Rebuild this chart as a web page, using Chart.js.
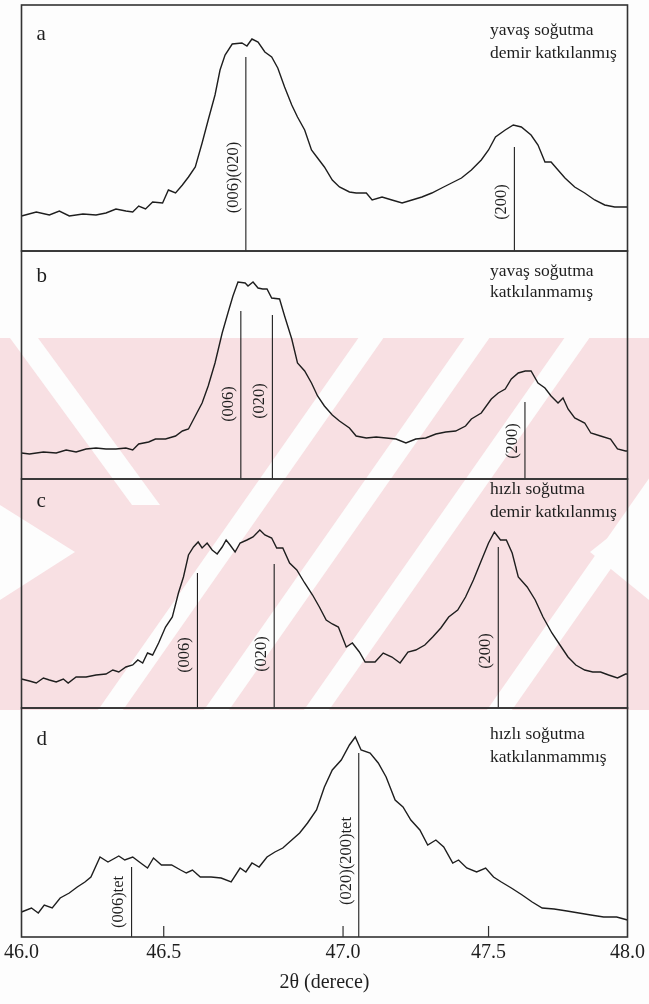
<!DOCTYPE html>
<html>
<head>
<meta charset="utf-8">
<script src="https://cdn.jsdelivr.net/npm/chart.js@4.4.1/dist/chart.umd.min.js"></script>
<style>
  html, body { margin: 0; padding: 0; background: #fdfdfd; }
  #wrap { position: relative; width: 649px; height: 1004px; }
</style>
</head>
<body>
<div id="wrap"><canvas id="xrd" width="649" height="1004"></canvas></div>
<script>
// ---- Diffraction patterns: 2θ (degrees) and intensity (a.u.) ----

// (a) yavaş soğutma, demir katkılanmış
const thetaA = [46.000, 46.052, 46.098, 46.133, 46.168, 46.216, 46.262, 46.297, 46.332, 46.367,
  46.391, 46.412, 46.436, 46.461, 46.496, 46.513, 46.533, 46.552, 46.569, 46.588,
  46.607, 46.624, 46.643, 46.657, 46.671, 46.691, 46.718, 46.732, 46.746, 46.763,
  46.782, 46.801, 46.818, 46.837, 46.857, 46.873, 46.893, 46.912, 46.929, 46.948,
  46.970, 46.990, 47.022, 47.045, 47.080, 47.100, 47.134, 47.168, 47.203, 47.237,
  47.271, 47.305, 47.339, 47.373, 47.407, 47.441, 47.475, 47.500, 47.525, 47.560,
  47.589, 47.618, 47.653, 47.678, 47.703, 47.725, 47.750, 47.775, 47.810, 47.846,
  47.882, 47.918, 47.954, 47.989, 48.000];
const intA = [35, 39, 36, 40, 35, 37, 36, 38, 42, 40,
  39, 45, 42, 49, 48, 61, 58, 66, 74, 84,
  108, 131, 156, 181, 196, 207, 208, 205, 212, 209,
  199, 194, 183, 164, 146, 134, 121, 101, 93, 84,
  71, 64, 59, 58, 58, 51, 54, 51, 48, 51,
  54, 58, 63, 68, 73, 81, 91, 101, 114, 121,
  126, 124, 116, 106, 89, 89, 81, 73, 64, 58,
  51, 46, 44, 44, 44];

// (b) yavaş soğutma, katkılanmamış
const thetaB = [46.000, 46.028, 46.077, 46.122, 46.157, 46.192, 46.227, 46.262, 46.297, 46.332,
  46.367, 46.391, 46.412, 46.447, 46.471, 46.505, 46.533, 46.552, 46.569, 46.588,
  46.607, 46.624, 46.643, 46.663, 46.679, 46.693, 46.707, 46.727, 46.735, 46.749,
  46.763, 46.776, 46.788, 46.801, 46.823, 46.837, 46.857, 46.873, 46.893, 46.912,
  46.929, 46.948, 46.970, 46.990, 47.022, 47.045, 47.080, 47.114, 47.148, 47.182,
  47.216, 47.250, 47.284, 47.319, 47.353, 47.387, 47.421, 47.441, 47.475, 47.510,
  47.535, 47.560, 47.582, 47.607, 47.632, 47.653, 47.678, 47.703, 47.725, 47.750,
  47.768, 47.786, 47.810, 47.846, 47.868, 47.903, 47.939, 47.964, 47.993, 48.000];
const intB = [26, 25, 27, 26, 29, 27, 30, 31, 30, 30,
  31, 29, 35, 37, 40, 40, 43, 48, 50, 63,
  76, 93, 116, 146, 166, 183, 197, 196, 193, 197,
  191, 190, 190, 181, 180, 163, 140, 116, 108, 96,
  83, 73, 64, 58, 51, 43, 41, 42, 41, 40,
  36, 40, 41, 45, 47, 48, 53, 60, 66, 80,
  86, 90, 100, 106, 108, 108, 96, 91, 83, 76,
  81, 70, 61, 56, 46, 43, 40, 30, 28, 28];

// (c) hızlı soğutma, demir katkılanmış
const thetaC = [46.000, 46.028, 46.052, 46.077, 46.098, 46.122, 46.147, 46.164, 46.192, 46.227,
  46.262, 46.297, 46.321, 46.342, 46.367, 46.391, 46.409, 46.426, 46.443, 46.461,
  46.482, 46.505, 46.524, 46.541, 46.555, 46.569, 46.583, 46.596, 46.607, 46.621,
  46.635, 46.649, 46.663, 46.674, 46.685, 46.699, 46.713, 46.732, 46.749, 46.768,
  46.782, 46.801, 46.815, 46.832, 46.851, 46.871, 46.893, 46.915, 46.934, 46.953,
  46.970, 46.987, 47.011, 47.032, 47.056, 47.076, 47.110, 47.138, 47.168, 47.196,
  47.223, 47.250, 47.281, 47.308, 47.336, 47.363, 47.394, 47.421, 47.448, 47.476,
  47.500, 47.521, 47.543, 47.564, 47.585, 47.607, 47.639, 47.668, 47.696, 47.728,
  47.757, 47.786, 47.814, 47.846, 47.875, 47.903, 47.932, 47.964, 47.993, 48.000];
const intC = [29, 27, 25, 30, 28, 26, 29, 25, 31, 31,
  33, 34, 38, 36, 41, 43, 48, 45, 55, 53,
  65, 81, 91, 115, 131, 153, 161, 166, 160, 165,
  158, 154, 161, 168, 163, 156, 165, 168, 171, 178,
  173, 170, 160, 160, 145, 138, 125, 113, 101, 88,
  84, 81, 61, 65, 56, 46, 46, 55, 51, 45,
  56, 58, 63, 71, 80, 91, 98, 111, 128, 148,
  165, 176, 168, 168, 155, 131, 121, 108, 91, 75,
  63, 51, 43, 38, 36, 36, 33, 30, 34, 34];

// (d) hızlı soğutma, katkılanmammış
const thetaD = [46.000, 46.035, 46.059, 46.080, 46.108, 46.136, 46.168, 46.196, 46.223, 46.244,
  46.276, 46.304, 46.342, 46.363, 46.391, 46.419, 46.443, 46.464, 46.492, 46.522,
  46.547, 46.563, 46.580, 46.602, 46.632, 46.660, 46.688, 46.713, 46.729, 46.746,
  46.766, 46.788, 46.810, 46.832, 46.857, 46.879, 46.901, 46.926, 46.948, 46.970,
  46.995, 47.022, 47.042, 47.062, 47.093, 47.121, 47.148, 47.179, 47.206, 47.233,
  47.264, 47.291, 47.319, 47.346, 47.377, 47.397, 47.425, 47.459, 47.490, 47.518,
  47.546, 47.582, 47.621, 47.657, 47.693, 47.736, 47.782, 47.825, 47.868, 47.914,
  47.961, 48.000];
const intD = [25, 29, 24, 32, 29, 39, 44, 50, 55, 60,
  80, 75, 81, 77, 80, 74, 69, 79, 72, 72,
  67, 64, 67, 60, 60, 59, 55, 69, 65, 74,
  70, 80, 85, 89, 97, 104, 114, 127, 150, 167,
  177, 192, 200, 187, 184, 174, 160, 137, 130, 117,
  107, 92, 97, 90, 74, 77, 69, 65, 69, 60,
  55, 49, 42, 35, 29, 28, 26, 24, 22, 20,
  20, 17];

// Reflection markers: position (2θ), line height (a.u.), Miller indices
const peakPosA = [46.729, 47.593];
const peakTopA = [194, 104];
const peakHklA = ['(006)(020)', '(200)'];

const peakPosB = [46.715, 46.803, 47.631];
const peakTopB = [168, 164, 77];
const peakHklB = ['(006)', '(020)', '(200)'];

const peakPosC = [46.594, 46.808, 47.535];
const peakTopC = [135, 144, 161];
const peakHklC = ['(006)', '(020)', '(200)'];

const peakPosD = [46.387, 47.054];
const peakTopD = [70, 184];
const peakHklD = ['(006)tet', '(020)(200)tet'];

// Panel letters and sample descriptions
const panelLetters = ['a', 'b', 'c', 'd'];
const panelNotes = [
  ['yavaş soğutma', 'demir katkılanmış'],
  ['yavaş soğutma', 'katkılanmamış'],
  ['hızlı soğutma', 'demir katkılanmış'],
  ['hızlı soğutma', 'katkılanmammış']
];

// 2θ axis ticks and their printed spacing along the axis (fractions of its length)
const axisTicks = [46.0, 46.5, 47.0, 47.5, 48.0];
const tickFractions = [0, 0.2347, 0.5306, 0.7707, 1];
const xTitle = '2θ (derece)';

// ---- layout / style ----
const panelIds = ['ya', 'yb', 'yc', 'yd'];
const panelSpan = [246, 228, 229, 229];              // y range of each panel (a.u.)
const labelMid = [[73.5, 49], [75, 78, 38], [53, 54, 57], [35, 76]];
const letterBase = [35, 31, 28, 37];                 // px below panel top
const noteBase = [[30, 53], [25, 46], [15, 38], [31, 54]];
const SERIF = '"Liberation Serif", "Times New Roman", serif';
const INK = '#1e1e1e';
const PAPER = '#fdfdfd';
const BLUSH = '#f8e0e3';

// piecewise-linear mapping of 2θ onto the printed axis
function thetaToFraction(v) {
  const t = axisTicks, f = tickFractions;
  if (v <= t[0]) return f[0] + (v - t[0]) * (f[1] - f[0]) / (t[1] - t[0]);
  for (let i = 0; i < t.length - 1; i++) {
    if (v <= t[i + 1]) return f[i] + (v - t[i]) * (f[i + 1] - f[i]) / (t[i + 1] - t[i]);
  }
  const n = t.length - 1;
  return f[n] + (v - t[n]) * (f[n] - f[n - 1]) / (t[n] - t[n - 1]);
}
function fractionToTheta(d) {
  const t = axisTicks, f = tickFractions;
  for (let i = 0; i < f.length - 1; i++) {
    if (d <= f[i + 1] || i === f.length - 2) return t[i] + (d - f[i]) * (t[i + 1] - t[i]) / (f[i + 1] - f[i]);
  }
}

class PrintedAxisScale extends Chart.LinearScale {
  getPixelForValue(value) {
    if (value === null || value === undefined || isNaN(value)) return NaN;
    return this.getPixelForDecimal(thetaToFraction(value));
  }
  getValueForPixel(pixel) {
    return fractionToTheta(this.getDecimalForPixel(pixel));
  }
}
PrintedAxisScale.id = 'printedAxis';
PrintedAxisScale.defaults = Chart.LinearScale.defaults;
Chart.register(PrintedAxisScale);

const series = [
  [thetaA, intA], [thetaB, intB], [thetaC, intC], [thetaD, intD]
];
const peaks = [
  [peakPosA, peakTopA, peakHklA], [peakPosB, peakTopB, peakHklB],
  [peakPosC, peakTopC, peakHklC], [peakPosD, peakTopD, peakHklD]
];

const datasets = [];
series.forEach(([th, iy], p) => {
  datasets.push({
    data: th.map((t, i) => ({ x: t, y: iy[i] })),
    yAxisID: panelIds[p], xAxisID: 'x',
    borderColor: INK, borderWidth: 1.4, pointRadius: 0, tension: 0, fill: false
  });
});
peaks.forEach(([pos, top], p) => {
  pos.forEach((t, k) => {
    datasets.push({
      data: [{ x: t, y: 0 }, { x: t, y: top[k] }],
      yAxisID: panelIds[p], xAxisID: 'x',
      borderColor: INK, borderWidth: 1.1, pointRadius: 0, fill: false
    });
  });
});

// stacked panels: the last declared scale sits on top
const scales = {
  x: {
    type: 'printedAxis', position: 'bottom', min: 46, max: 48,
    grid: { display: false, drawTicks: false },
    border: { display: false },
    afterBuildTicks: (s) => { s.ticks = axisTicks.map(v => ({ value: v })); },
    ticks: {
      autoSkip: false, maxRotation: 0, padding: 4, color: INK,
      font: { family: SERIF, size: 20 },
      callback: (v) => Number(v).toFixed(1)
    },
    title: { display: true, text: xTitle, color: INK, padding: { top: 1.5, bottom: 0 },
      font: { family: SERIF, size: 20 } }
  }
};
for (let p = panelIds.length - 1; p >= 0; p--) {
  scales[panelIds[p]] = {
    type: 'linear', position: 'left', stack: 'panels', stackWeight: panelSpan[p],
    min: 0, max: panelSpan[p], display: false
  };
}

// faint pink watermark band behind the panels
const backdrop = {
  id: 'backdrop',
  beforeDraw(chart) {
    const ctx = chart.ctx, W = chart.width;
    ctx.save();
    ctx.fillStyle = PAPER;
    ctx.fillRect(0, 0, W, chart.height);
    const y0 = 338, y1 = 710, h = y1 - y0;
    ctx.beginPath(); ctx.rect(0, y0, W, h); ctx.clip();
    ctx.fillStyle = BLUSH;
    ctx.fillRect(0, y0, W, h);
    ctx.fillStyle = PAPER;
    const poly = (pts) => {
      ctx.beginPath(); ctx.moveTo(pts[0][0], pts[0][1]);
      pts.slice(1).forEach(p => ctx.lineTo(p[0], p[1]));
      ctx.closePath(); ctx.fill();
    };
    // rising stripes
    const k = 0.7, w = 25;
    [98, 204, 304, 487].forEach(xb => {
      poly([[xb, y1], [xb + w, y1], [xb + w + k * h, y0], [xb + k * h, y0]]);
    });
    // falling stripe on the left and the side notches
    poly([[10, y0], [38, y0], [160, 505], [132, 505]]);
    poly([[0, 505], [75, 552], [0, 600]]);
    poly([[W, 505], [590, 552], [W, 600]]);
    ctx.restore();
  }
};

const furniture = {
  id: 'furniture',
  afterDraw(chart) {
    const ctx = chart.ctx, area = chart.chartArea, xs = chart.scales.x;
    ctx.save();
    // panel frames
    ctx.strokeStyle = '#333'; ctx.lineWidth = 1.6;
    panelIds.forEach(id => {
      const s = chart.scales[id];
      ctx.strokeRect(area.left, s.top, area.right - area.left, s.bottom - s.top);
    });
    // inward tick marks on the 2θ axis
    ctx.lineWidth = 1.2;
    xs.ticks.forEach((t, i) => {
      if (i === 0 || i === xs.ticks.length - 1) return;
      const px = xs.getPixelForValue(t.value);
      ctx.beginPath(); ctx.moveTo(px, area.bottom); ctx.lineTo(px, area.bottom - 11); ctx.stroke();
    });
    // letters and notes
    ctx.fillStyle = INK; ctx.textBaseline = 'alphabetic'; ctx.textAlign = 'left';
    panelIds.forEach((id, p) => {
      const s = chart.scales[id];
      ctx.font = '21px ' + SERIF;
      ctx.fillText(panelLetters[p], area.left + 15, s.top + letterBase[p]);
      ctx.font = '17.5px ' + SERIF;
      panelNotes[p].forEach((line, j) => ctx.fillText(line, 490, s.top + noteBase[p][j]));
    });
    // Miller index labels beside the marker lines
    ctx.font = '16.5px ' + SERIF; ctx.textAlign = 'center'; ctx.textBaseline = 'middle';
    peaks.forEach(([pos, , hkl], p) => {
      const s = chart.scales[panelIds[p]];
      pos.forEach((t, k) => {
        ctx.save();
        ctx.translate(xs.getPixelForValue(t) - 12.5, s.getPixelForValue(labelMid[p][k]));
        ctx.rotate(-Math.PI / 2);
        ctx.fillText(hkl[k], 0, 0);
        ctx.restore();
      });
    });
    ctx.restore();
  }
};

new Chart(document.getElementById('xrd'), {
  type: 'line',
  data: { datasets },
  options: {
    responsive: false, animation: false, devicePixelRatio: 1,
    layout: { padding: { left: 20, right: 19, top: 5, bottom: 9.5 } },
    plugins: { legend: { display: false }, tooltip: { enabled: false } },
    scales
  },
  plugins: [backdrop, furniture]
});
</script>
</body>
</html>
